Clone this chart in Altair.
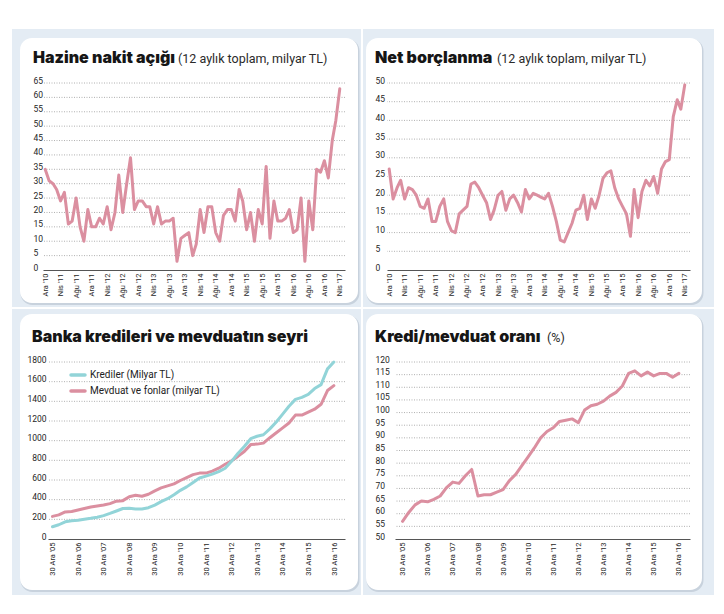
import altair as alt
import pandas as pd

# ---------------- data ----------------
MONTHS_TR = ["Oca", "Şub", "Mar", "Nis", "May", "Haz", "Tem", "Ağu", "Eyl", "Eki", "Kas", "Ara"]

# monthly, Ara '10 .. Nis '17
hazine_vals = [35, 31, 30, 28, 24, 27, 16, 17, 25, 15, 10, 21, 15, 15, 18, 16, 22, 14, 20, 33,
               20, 30, 39, 21, 24, 24, 22, 22, 16, 22, 16, 17, 17, 18, 3, 11, 12, 13, 5, 9,
               21, 13, 22, 22, 13, 10, 19, 21, 21, 17, 28, 24, 14, 20, 10, 21, 16, 36, 11, 24,
               17, 17, 18, 21, 13, 14, 25, 3, 24, 14, 35, 34, 38, 32, 45, 52, 63]
net_vals = [27, 19, 22, 24, 19, 22, 21.5, 20, 17, 16.5, 19, 13, 13, 17, 19, 13, 10.5, 10, 15, 16,
            17, 23, 23.5, 22, 20, 18, 13.5, 16, 20, 21, 16, 19, 20, 18, 15.5, 21.5, 19, 20.5, 20, 19.5,
            19, 20.5, 17, 13, 8, 7.5, 10, 12.5, 16, 16.5, 20, 13.5, 19, 16.5, 20, 24.5, 26, 26.5, 22, 19,
            17, 15, 9, 21.5, 14, 21, 24, 22.5, 25, 20.5, 27, 29, 29.5, 41, 45.5, 43, 49.5]

# quarterly, Ara '05 .. Ara '16
kredi_vals = [125, 145, 175, 185, 190, 200, 210, 222, 238, 260, 285, 310, 312, 305, 305, 318, 345, 380,
              410, 450, 495, 530, 575, 620, 640, 660, 685, 720, 790, 870, 940, 1020, 1045, 1060, 1120,
              1190, 1270, 1350, 1420, 1440, 1470, 1530, 1570, 1730, 1800]
mevduat_vals = [230, 245, 275, 280, 295, 310, 325, 335, 345, 360, 385, 390, 430, 445, 435, 455, 490, 520,
                540, 560, 595, 625, 655, 670, 670, 690, 720, 760, 795, 840, 890, 960, 965, 975, 1030,
                1080, 1130, 1180, 1260, 1260, 1290, 1320, 1370, 1510, 1560]
oran_vals = [57, 60.5, 63.5, 65, 64.7, 65.7, 67, 70.3, 72.5, 72, 75, 77.5, 67, 67.5, 67.5, 68.5, 69.5, 73,
             75.5, 79, 82.5, 86, 90, 92.5, 94, 96.5, 97, 97.5, 96, 101, 102.7, 103.3, 104.5, 106.5, 108,
             110.5, 115.5, 116.5, 114.5, 116, 114.5, 115.5, 115.5, 114, 115.5]

SERIES_NAMES = ["Krediler (Milyar TL)", "Mevduat ve fonlar (milyar TL)"]

TITLE_TL, SUB_TL = "Hazine nakit açığı", "(12 aylık toplam, milyar TL)"
TITLE_TR, SUB_TR = "Net borçlanma", "(12 aylık toplam, milyar TL)"
TITLE_BL = "Banka kredileri ve mevduatın seyri"
TITLE_BR, SUB_BR = "Kredi/mevduat oranı", "(%)"

TICKS_TL = list(range(0, 66, 5))
TICKS_TR = list(range(0, 51, 5))
TICKS_BL = list(range(0, 1801, 200))
TICKS_BR = list(range(50, 121, 5))

monthly_dates = pd.date_range("2010-12-01", periods=len(hazine_vals), freq="MS")
quarter_dates = [pd.Timestamp(2005 + (11 + 3 * k) // 12, (11 + 3 * k) % 12 + 1, 28)
                 for k in range(len(kredi_vals))]

df_tl = pd.DataFrame({"date": monthly_dates, "value": hazine_vals})
df_tr = pd.DataFrame({"date": monthly_dates, "value": net_vals})
df_kredi = pd.DataFrame({"date": quarter_dates, "value": kredi_vals})
df_mevduat = pd.DataFrame({"date": quarter_dates, "value": mevduat_vals})
df_br = pd.DataFrame({"date": quarter_dates, "value": oran_vals})

top_ticks = [alt.DateTime(year=2010 + (11 + 4 * k) // 12, month=(11 + 4 * k) % 12 + 1, date=1)
             for k in range(20)]
bottom_ticks = [alt.DateTime(year=y, month=12, date=30) for y in range(2005, 2017)]

# ---------------- style ----------------
FONT_T = "Inter"
FONT_L = "Roboto"
FONT_S = "Roboto"
BLUE = "#e4ecf4"
SHADOW = "#c8d2dd"
PINK = "#db8fa0"
CYAN = "#92d4d8"
TXT = "#161616"
LBL = "#262626"
TITLE_SIZE = 16

ONE = pd.DataFrame({"k": [0]})
MONTH_ARR = "[" + ",".join("'" + m + "'" for m in MONTHS_TR) + "]"
EXPR_TOP = MONTH_ARR + "[month(datum.value)] + \" '\" + timeFormat(datum.value, '%y')"
EXPR_BOTTOM = "date(datum.value) + ' ' + " + MONTH_ARR + "[month(datum.value)] + \" '\" + timeFormat(datum.value, '%y')"


def rect_layer(x1, x2, y1, y2, color, radius=0, opacity=1):
    kw = dict(color=color, opacity=opacity)
    if radius:
        kw["cornerRadius"] = radius
    return alt.Chart(ONE).mark_rect(**kw).encode(
        x=alt.value(x1), x2=alt.value(x2), y=alt.value(y1), y2=alt.value(y2))


def frame_layers(blue, white):
    bx1, bx2, by1, by2 = blue
    wx1, wx2, wy1, wy2 = white
    return [
        rect_layer(bx1, bx2, by1, by2, BLUE),
        rect_layer(wx1 + 0.5, wx2 + 1.5, wy1 + 1, wy2 + 2, SHADOW, 12),
        rect_layer(wx1, wx2, wy1, wy2, "white", 12),
    ]


def text_layer(x, y, txt, size, weight="normal", font=FONT_S, color=TXT, baseline="alphabetic"):
    return alt.Chart(pd.DataFrame({"t": [txt]})).mark_text(
        align="left", baseline=baseline, font=font, fontWeight=weight,
        fontSize=size, color=color).encode(x=alt.value(x), y=alt.value(y), text="t:N")


def title_layers(x, y, title, sub=None, sub_x=0):
    out = [text_layer(x, y, title, TITLE_SIZE, weight=900, font=FONT_T)]
    if sub:
        out.append(text_layer(sub_x, y, sub, 12.5, color="#2a2a2a"))
    return out


def legend_layers(x, y, names, colors, step):
    out = []
    for i, (n, c) in enumerate(zip(names, colors)):
        yy = y + i * step
        out.append(alt.Chart(ONE).mark_rule(color=c, strokeWidth=3.5, strokeCap="round").encode(
            x=alt.value(x), x2=alt.value(x + 14), y=alt.value(yy)))
        out.append(text_layer(x + 19, yy, n, 10, color="#222222", baseline="middle"))
    return out


def y_enc(domain, ticks, align, pad):
    return alt.Y("value:Q", scale=alt.Scale(domain=domain, nice=False, zero=False),
                 axis=alt.Axis(values=ticks, title=None, grid=False, ticks=False, domain=False,
                               format="d", labelAlign=align, labelBaseline="alphabetic",
                               labelPadding=pad, labelFont=FONT_L, labelFontSize=8.5,
                               labelColor=LBL, labelOverlap=False, zindex=1))


def x_enc(domain, ticks, expr, size):
    return alt.X("date:T", scale=alt.Scale(domain=domain),
                 axis=alt.Axis(values=ticks, labelExpr=expr, title=None, grid=False, ticks=False,
                               domain=True, domainColor="#555555", domainWidth=1,
                               labelAngle=-90, labelAlign="right", labelBaseline="middle",
                               labelPadding=3, labelFont=FONT_L, labelFontSize=size,
                               labelColor=LBL, labelFlush=False, labelOverlap=False, zindex=1))


def grid_layer(ticks, yenc):
    return alt.Chart(pd.DataFrame({"value": ticks[1:]})).mark_rule(
        color="#9c9c9c", strokeDash=[1, 1.5], strokeWidth=0.8).encode(y=yenc)


def line(df, color, xenc, yenc):
    return alt.Chart(df).mark_line(color=color, strokeWidth=3, strokeJoin="round",
                                   strokeCap="round").encode(x=xenc, y=yenc)


def spacer():
    # empty cell so that each row's first panel is placed by its bounds
    return rect_layer(0, 0, 0, 0, "white", opacity=0).properties(width=1, height=1)


# ---------------- panels ----------------
dom_top = [alt.DateTime(year=2010, month=11, date=14), alt.DateTime(year=2017, month=5, date=12)]

y_tl = y_enc([0, 65], TICKS_TL, "left", 10)
tl = alt.layer(
    *frame_layers((-31, 318, -54, 224), (-23, 315, -45, 220)),
    grid_layer(TICKS_TL, y_tl),
    line(df_tl, PINK, x_enc(dom_top, top_ticks, EXPR_TOP, 7.5), y_tl),
    *title_layers(-10, -20, TITLE_TL, SUB_TL, 135),
).properties(width=302, height=187)

y_tr = y_enc([0, 50], TICKS_TR, "left", 12)
tr = alt.layer(
    *frame_layers((-24, 327, -54, 224), (-21, 315, -45, 220)),
    grid_layer(TICKS_TR, y_tr),
    line(df_tr, PINK, x_enc(dom_top, top_ticks, EXPR_TOP, 7.5), y_tr),
    *title_layers(-12, -20, TITLE_TR, SUB_TR, 110),
).properties(width=303, height=187)

dom_bl = [alt.DateTime(year=2005, month=10, date=25), alt.DateTime(year=2017, month=6, date=5)]
y_bl = y_enc([0, 1800], TICKS_BL, "right", 2)
x_bl = x_enc(dom_bl, bottom_ticks, EXPR_BOTTOM, 7.5)
bl = alt.layer(
    *frame_layers((-36, 313, -53, 233), (-28, 310, -48, 228)),
    grid_layer(TICKS_BL, y_bl),
    line(df_mevduat, PINK, x_bl, y_bl),
    line(df_kredi, CYAN, x_bl, y_bl),
    *legend_layers(23, 13, SERIES_NAMES, [CYAN, PINK], 16),
    *title_layers(-16, -20, TITLE_BL),
).properties(width=297, height=177)

dom_br = [alt.DateTime(year=2005, month=9, date=9), alt.DateTime(year=2017, month=6, date=8)]
y_br = y_enc([50, 120], TICKS_BR, "left", 20)
br = alt.layer(
    *frame_layers((-32, 319, -53, 233), (-29, 307, -48, 228)),
    grid_layer(TICKS_BR, y_br),
    line(df_br, PINK, x_enc(dom_br, bottom_ticks, EXPR_BOTTOM, 7.5), y_br),
    *title_layers(-20, -20, TITLE_BR, SUB_BR, 152),
).properties(width=295, height=177)

row1 = alt.hconcat(spacer(), tl, tr, spacing=0)
row2 = alt.hconcat(spacer(), bl, br, spacing=0)
chart = alt.vconcat(row1, row2, spacing=0).properties(
    padding={"left": 0, "top": 20, "right": 0, "bottom": 0}, background="white"
).configure_view(stroke="transparent")

chart.save("out.html", embed_options={"renderer": "svg", "actions": False})
